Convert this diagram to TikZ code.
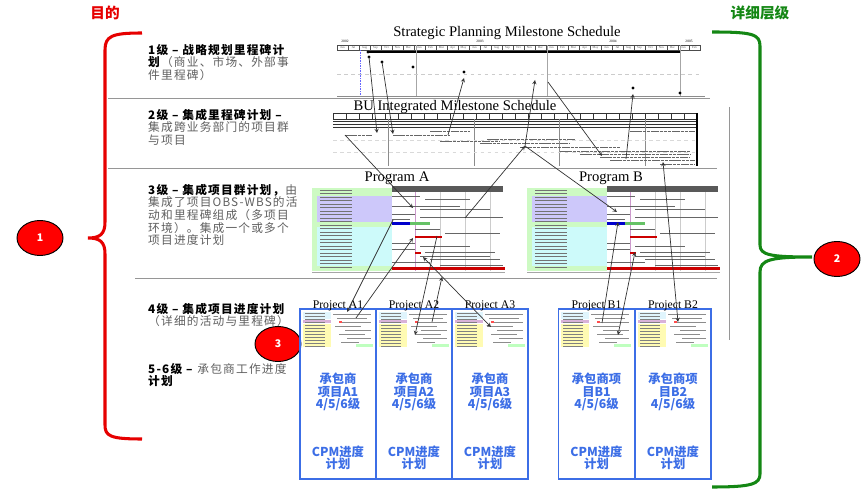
\documentclass[tikz,border=0pt]{standalone}
\usepackage{fontspec}
\setmainfont{Noto Sans CJK SC}
\newfontfamily\spacedfont{Noto Sans CJK SC}[LetterSpace=10]
\newfontfamily\titlefont{Liberation Serif}
\usepackage{tikz}
\usetikzlibrary{arrows,shapes,positioning}
\usepackage{xcolor}
\definecolor{aimred}{RGB}{230,0,0}
\definecolor{lvlgreen}{RGB}{20,135,20}
\definecolor{projblue}{RGB}{60,110,230}
\definecolor{rulegray}{RGB}{150,150,150}
\definecolor{txtgray}{RGB}{95,95,95}
\definecolor{tblgreen}{RGB}{205,250,195}
\definecolor{tblpurple}{RGB}{205,200,250}
\definecolor{tblcyan}{RGB}{205,250,250}
\tikzstyle{link} = [->,>=stealth,semithick,color=black!80]
\tikzstyle{duallink} = [<->,>=stealth,semithick,color=black!80]
\tikzstyle{marker} = [ellipse, draw=black, thick, fill=red, minimum width=1.38cm,
    minimum height=1.05cm, inner sep=0pt, text=white, font=\bfseries\fontsize{9}{10}\selectfont]
\tikzstyle{levelnote} = [anchor=north west, inner sep=0pt, align=left, font=\spacedfont\fontsize{10}{10.7}\selectfont]
\tikzstyle{chartitle} = [inner sep=0pt, font=\titlefont\fontsize{12.5}{13}\selectfont]
\tikzstyle{projbox} = [rectangle, draw=projblue, line width=1.1pt, minimum width=2.28cm,
    minimum height=5.1cm, inner sep=0pt]
\tikzstyle{projlabel} = [inner sep=0pt, font=\titlefont\fontsize{10}{10}\selectfont]
\tikzstyle{contractor} = [inner sep=0pt, align=center, text=projblue, font=\bfseries\fontsize{10.5}{10.5}\selectfont]

% program gantt chart, shifted by #1
\newcommand{\progchart}[1]{%
  \begin{scope}[shift={(#1,0)}]
    \fill[tblgreen] (312,188) rectangle (392,271);
    \fill[tblpurple] (317,196) rectangle (392,222);
    \fill[tblcyan] (317,227) rectangle (392,266);
    \foreach \y in {190,193.5,...,269} \draw[black!55,line width=0.5pt] (320,\y) -- (352,\y);
    \fill[black!65] (392,186) rectangle (503,192);
    \foreach \x in {415,440,465,490} \draw[black!20] (\x,192) -- (\x,271);
    \draw[violet!40] (415,192) -- (415,271);
    \foreach \a/\b/\y in {392/420/196,425/470/199,392/460/206,420/490/209,392/415/214,
        420/503/217,392/410/219,415/440/229,445/500/233,392/415/243,420/470/246,
        392/415/249,425/495/252,420/490/256,430/500/259,392/430/262,440/503/265}
      \draw[black!60,line width=0.6pt] (\a,\y) -- (\b,\y);
    \fill[blue!80!black] (392,222.5) rectangle (410,225);
    \fill[green!60!black!60] (410,222.5) rectangle (430,225);
    \fill[red!80!black] (415,236) rectangle (442,238.5);
    \fill[red!80!black] (415,252) rectangle (421,254.5);
    \fill[red!80!black] (392,267.5) rectangle (505,270);
    \draw[black!35] (312,272) -- (505,272);
  \end{scope}}

% small schedule picture inside a project box, left edge at #1
\newcommand{\projthumb}[1]{%
  \begin{scope}[shift={(#1,0)}]
    \fill[cyan!12] (2,312) rectangle (30,319);
    \fill[violet!30] (2,320) rectangle (30,323);
    \fill[yellow!30] (2,324) rectangle (30,347);
    \fill[green!25] (55,344) rectangle (72,347);
    \foreach \y in {313,316,...,346} \draw[black!50,line width=0.4pt] (4,\y) -- (24,\y);
    \foreach \a/\b/\y in {32/70/314,36/66/318,40/70/322,34/60/326,44/70/330,38/64/334,
        46/70/338,40/58/342}
      \draw[black!45,line width=0.5pt] (\a,\y) -- (\b,\y);
    \fill[red!70] (38,321) rectangle (41,323);
  \end{scope}}

\begin{document}
\begin{tikzpicture}[x=0.03cm,y=-0.03cm]
\useasboundingbox (0,0) rectangle (865,489);

% headings and braces
\node[inner sep=0pt, text=aimred, font=\bfseries\fontsize{12.5}{14}\selectfont] (aim) at (105,13) {目的};
\node[inner sep=0pt, text=lvlgreen, font=\bfseries\fontsize{12.5}{14}\selectfont] (depth) at (760,13) {详细层级};
\draw[aimred, line width=2.6pt] (142,33) .. controls (112,33) and (105,36) .. (105,50) -- (105,222)
    .. controls (105,234) and (100,238) .. (88,238) .. controls (100,238) and (105,242) .. (105,254)
    -- (105,425) .. controls (105,436) and (110,439) .. (142,439);
\draw[lvlgreen, line width=2.6pt] (712,32) .. controls (752,32) and (760,34) .. (760,46) -- (760,245)
    .. controls (760,255) and (770,257) .. (812,257) .. controls (770,257) and (760,260) .. (760,272)
    -- (760,474) .. controls (760,484) and (752,487) .. (712,487);
\node[marker] (one) at (40,238) {1};
\node[marker] (two) at (837,259) {2};
\node[marker] (three) at (278,344) {3};

% level separators
\draw[rulegray, thick] (108,98) -- (710,98);
\draw[rulegray, thick] (108,168) -- (717,168);
\draw[rulegray, thick] (135,278) -- (717,278);
\draw[rulegray] (729,107) -- (729,340);

% level texts
\node[levelnote] (lv1) at (148,44) {\textbf{1级 – 战略规划里程碑计}\\\textbf{划}\textcolor{txtgray}{（商业、市场、外部事}\\\textcolor{txtgray}{件里程碑）}};
\node[levelnote] (lv2) at (148,109) {\textbf{2级 – 集成里程碑计划 –}\\\textcolor{txtgray}{集成跨业务部门的项目群}\\\textcolor{txtgray}{与项目}};
\node[levelnote] (lv3) at (148,184) {\textbf{3级 – 集成项目群计划，}\textcolor{txtgray}{由}\\\textcolor{txtgray}{集成了项目OBS-WBS的活}\\\textcolor{txtgray}{动和里程碑组成（多项目}\\\textcolor{txtgray}{环境）。集成一个或多个}\\\textcolor{txtgray}{项目进度计划}};
\node[levelnote] (lv4) at (148,303) {\textbf{4级 – 集成项目进度计划}\\\textcolor{txtgray}{（详细的活动与里程碑）}};
\node[levelnote] (lv5) at (148,363) {\textbf{5-6级 –} \textcolor{txtgray}{承包商工作进度}\\\textbf{计划}};

% level 1 chart
\node[chartitle] (spms) at (507,33) {Strategic Planning Milestone Schedule};
\foreach \m [count=\i from 0] in {Jun,Jul,Aug,Sep,Oct,Nov,Dec,Jan,Feb,Mar,Apr,May,Jun,Jul,Aug,Sep,Oct,Nov,Dec,Jan,Feb,Mar,Apr,May,Jun,Jul,Aug,Sep,Oct,Nov,Dec,Jan,Feb}
  \draw[black!70, line width=0.3pt] (337+11*\i,45) rectangle node[inner sep=0pt, font=\titlefont\fontsize{2.6}{3}\selectfont] {\m} (348+11*\i,50);
\foreach \yr/\x in {2002/345,2003/480,2004/613,2005/689}
  \node[inner sep=0pt, font=\titlefont\fontsize{3}{3.5}\selectfont] at (\x,41.5) {\yr};
\draw[black, line width=1pt] (368,52) -- (680,52);
\foreach \x in {416,547,680} \draw[black!35] (\x,45) -- (\x,96);
\draw[blue!60, densely dotted] (360,50) -- (360,96);
\draw[black!20, dashed] (337,74) -- (700,74);
\draw[black!45] (337,96) -- (705,96);
\foreach \p in {(368,52),(369,57),(382,62),(413,67),(464,72),(633,88),(680,93)}
  \fill \p circle (1.7);

\coordinate (m1) at (369,57);
\coordinate (m2) at (382,62);
\coordinate (m3) at (464,78);
\coordinate (m4) at (535,80);
\coordinate (m5) at (548,82);
\coordinate (m6) at (633,94);

% level 2 chart
\node[chartitle] (bu) at (455,107) {BU Integrated Milestone Schedule};
\foreach \i in {0,...,27} \draw[black!80, line width=0.3pt] (333+13*\i,113.5) rectangle (346+13*\i,119);
\foreach \y in {121,124,127} \draw[black!80, line width=0.6pt] (333,\y) -- (697,\y);
\draw[black, line width=1.6pt] (697,113) -- (697,166);
\foreach \x in {388,474,559,645} \draw[black!45] (\x,119) -- (\x,166);
\foreach \y in {140,152} \draw[black!15, dashed] (333,\y) -- (697,\y);
\foreach \a/\b/\y in {345/372/135,393/450/135,487/575/139,480/570/143,440/500/141,520/620/147,
    560/690/151,580/690/154,600/690/157,610/695/160,660/695/164,430/470/131,630/695/131}
  \draw[black!60, line width=0.7pt, dash pattern=on 3pt off 0.6pt] (\a,\y) -- (\b,\y);

\coordinate (b1) at (377,133);
\coordinate (b2) at (393,134);
\coordinate (b3) at (448,135);
\coordinate (b4) at (525,146);
\coordinate (b5) at (602,156);
\coordinate (b6) at (626,159);
\coordinate (b7) at (345,135);
\coordinate (b8) at (663,162);

% level 3 charts
\node[chartitle] (prga) at (397,178) {Program A};
\node[chartitle] (prgb) at (611,178) {Program B};
\progchart{0}
\progchart{215}

\coordinate (pa1) at (413,208);
\coordinate (pa2) at (465,218);
\coordinate (pa3) at (393,220);
\coordinate (pa4) at (413,238);
\coordinate (pa5) at (437,236);
\coordinate (pa6) at (442,277);
\coordinate (pa7) at (423,257);
\coordinate (pb1) at (617,212);
\coordinate (pb2) at (618,222);
\coordinate (pb3) at (635,252);

% level 4 projects
\node[projbox] (pA1) at (338,394) {};
\node[projbox] (pA2) at (414,394) {};
\node[projbox] (pA3) at (490,394) {};
\node[projbox] (pB1) at (596.5,394) {};
\node[projbox] (pB2) at (673,394) {};
\node[projlabel, above=-2.5pt of pA1] (lA1) {Project A1};
\node[projlabel, above=-2.5pt of pA2] (lA2) {Project A2};
\node[projlabel, above=-2.5pt of pA3] (lA3) {Project A3};
\node[projlabel, above=-2.5pt of pB1] (lB1) {Project B1};
\node[projlabel, above=-2.5pt of pB2] (lB2) {Project B2};
\projthumb{301}
\projthumb{377}
\projthumb{453}
\projthumb{559}
\projthumb{636}

\node[contractor] (cA1) at (338,392) {承包商\\项目A1\\4/5/6级};
\node[contractor] (cA2) at (414,392) {承包商\\项目A2\\4/5/6级};
\node[contractor] (cA3) at (490,392) {承包商\\项目A3\\4/5/6级};
\node[contractor] (cB1) at (596.5,392) {承包商项\\目B1\\4/5/6级};
\node[contractor] (cB2) at (673,392) {承包商项\\目B2\\4/5/6级};
\foreach \n/\x in {sA1/338,sA2/414,sA3/490,sB1/596.5,sB2/673}
  \node[contractor] (\n) at (\x,458) {CPM进度\\计划};

\coordinate (a1in) at (347,312);
\coordinate (a1out) at (356,318);
\coordinate (a2in) at (415,335);
\coordinate (a2out) at (432,322);
\coordinate (a3in) at (491,327);
\coordinate (b1out) at (602,323);
\coordinate (b1in) at (618,335);
\coordinate (b2in) at (678,322);

% connectors
\draw[link] (m1) -- (b1);
\draw[link] (m2) -- (b2);
\draw[link] (b3) -- (m3);
\draw[link] (b4) -- (m4);
\draw[link] (m5) -- (b5);
\draw[link] (b6) -- (m6);
\draw[link] (b7) -- (pa1);
\draw[link] (pa2) -- (b4);
\draw[link] (b4) -- (pb1);
\draw[duallink] (b8) -- (b2in);
\draw[link] (pa3) -- (a1in);
\draw[link] (a1out) -- (pa4);
\draw[link] (pa5) -- (a2in);
\draw[link] (a2out) -- (pa6);
\draw[duallink] (pa7) -- (a3in);
\draw[link] (b1out) -- (pb2);
\draw[duallink] (pb3) -- (b1in);
\end{tikzpicture}
\end{document}
